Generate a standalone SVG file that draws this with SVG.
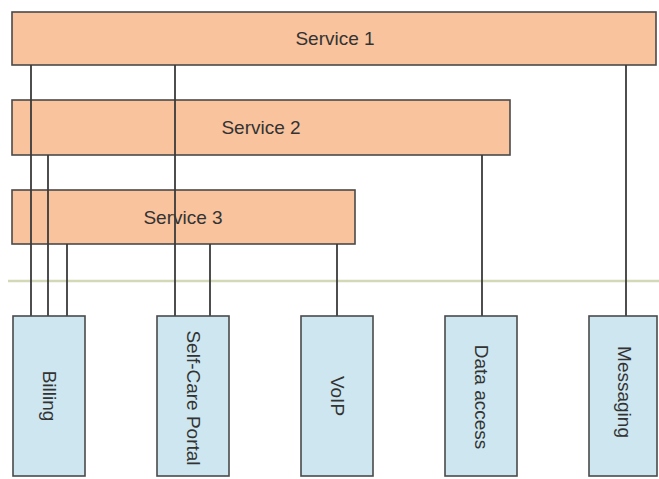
<svg xmlns="http://www.w3.org/2000/svg" width="659" height="479" viewBox="0 0 659 479">
<style>
.svc{fill:#f8c39d;stroke:#4a4a4a;stroke-width:1.6}
.app{fill:#cde6ef;stroke:#4a4a4a;stroke-width:1.6}
.lbl{font-family:"Liberation Sans",Arial,sans-serif;font-size:19px;fill:#333;text-anchor:middle;dominant-baseline:central}
.con{stroke:#3a3a3a;stroke-width:1.8;fill:none}
</style>
<rect width="659" height="479" fill="#fff"/>
<g id="service1"><rect class="svc" x="12" y="12" width="644" height="53"/><text class="lbl" x="335" y="38.5">Service 1</text></g>
<g id="service2"><rect class="svc" x="12" y="100" width="498" height="55"/><text class="lbl" x="261" y="127.5">Service 2</text></g>
<g id="service3"><rect class="svc" x="12" y="190" width="343" height="54"/><text class="lbl" x="183" y="217">Service 3</text></g>
<line id="boundary" x1="8" y1="281" x2="659" y2="281" stroke="#d3d9b6" stroke-width="2.5"/>
<g id="connectors">
<line class="con" x1="31" y1="65" x2="31" y2="316"/>
<line class="con" x1="48" y1="155" x2="48" y2="316"/>
<line class="con" x1="67" y1="244" x2="67" y2="316"/>
<line class="con" x1="175" y1="65" x2="175" y2="316"/>
<line class="con" x1="210" y1="244" x2="210" y2="316"/>
<line class="con" x1="337" y1="244" x2="337" y2="316"/>
<line class="con" x1="482" y1="155" x2="482" y2="316"/>
<line class="con" x1="626" y1="65" x2="626" y2="316"/>
</g>
<g id="billing"><rect class="app" x="13" y="316" width="72" height="160"/><text class="lbl" transform="translate(49,396) rotate(90)">Billing</text></g>
<g id="selfcare"><rect class="app" x="157" y="316" width="72" height="160"/><text class="lbl" transform="translate(193,398) rotate(90)">Self-Care Portal</text></g>
<g id="voip"><rect class="app" x="301" y="316" width="72" height="160"/><text class="lbl" transform="translate(337,396) rotate(90)">VoIP</text></g>
<g id="data"><rect class="app" x="445" y="316" width="72" height="160"/><text class="lbl" transform="translate(481,397) rotate(90)">Data access</text></g>
<g id="messaging"><rect class="app" x="589" y="316" width="68" height="160"/><text class="lbl" transform="translate(624,392) rotate(90)">Messaging</text></g>
</svg>
